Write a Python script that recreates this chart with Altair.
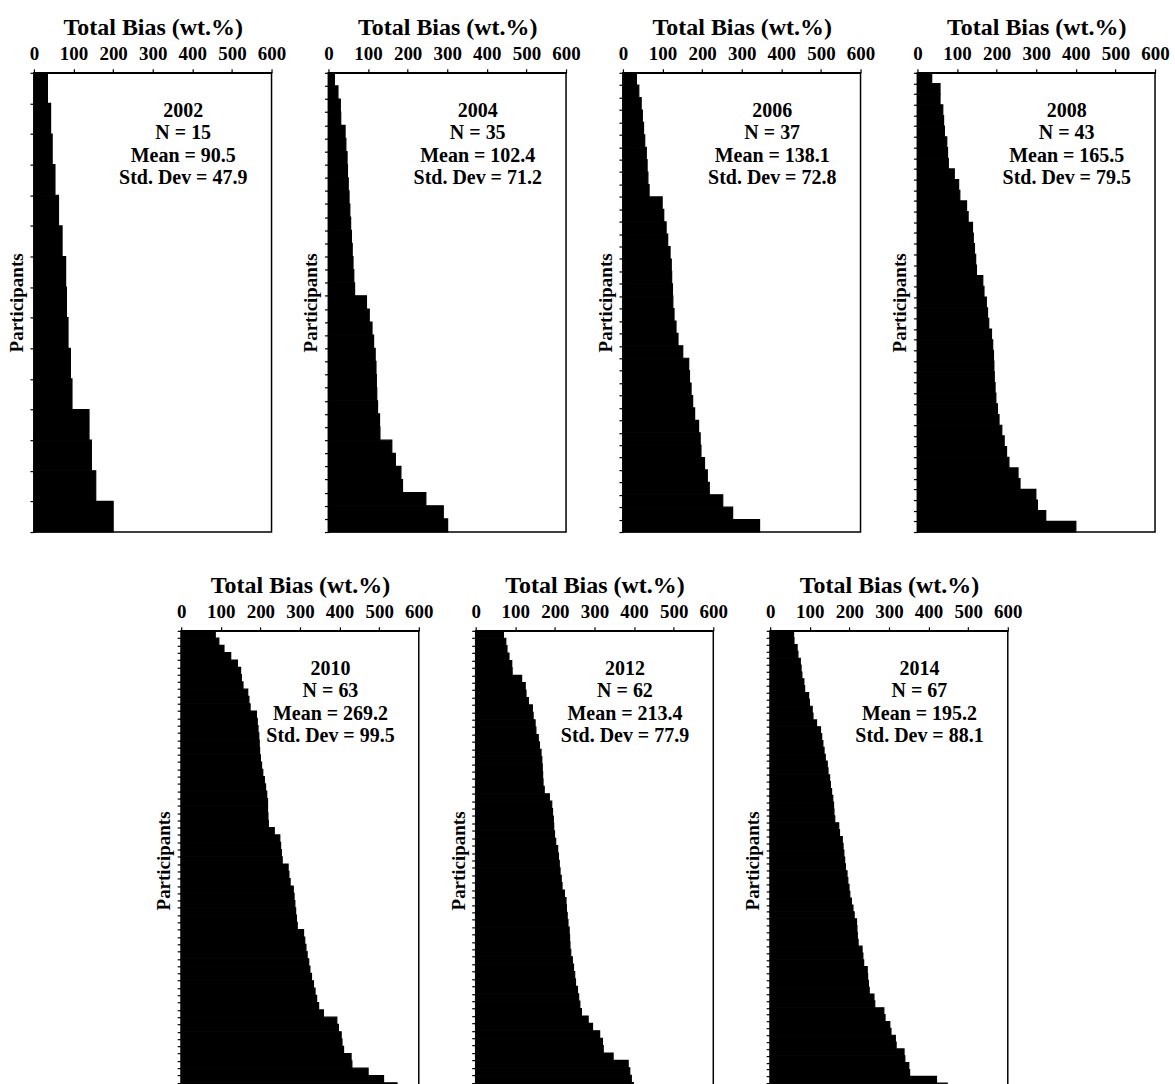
import altair as alt
import pandas as pd

years = [2002, 2004, 2006, 2008, 2010, 2012, 2014]
means = [90.5, 102.4, 138.1, 165.5, 269.2, 213.4, 195.2]
stds = [47.9, 71.2, 72.8, 79.5, 99.5, 77.9, 88.1]
x_ticks = [0, 100, 200, 300, 400, 500, 600]

bias_2002 = [34, 42, 46, 53, 62, 71, 80, 82, 86, 92, 96, 139, 145, 156, 200]
bias_2004 = [15, 24, 30, 31, 42, 44, 47, 48, 50, 52, 54, 56, 58, 60, 62, 64, 66,
             96, 103, 110, 114, 118, 120, 121, 122, 124, 129, 130, 160, 169, 183,
             187, 246, 290, 301]
bias_2006 = [34, 40, 46, 49, 52, 55, 59, 61, 63, 66, 99, 103, 109, 113, 119, 122,
             123, 125, 126, 129, 134, 139, 151, 166, 168, 172, 176, 181, 191, 195,
             197, 206, 213, 218, 252, 277, 345]
bias_2008 = [36, 57, 57, 64, 66, 68, 74, 76, 78, 93, 104, 107, 124, 128, 139, 141,
             144, 147, 149, 165, 168, 174, 177, 180, 187, 190, 192, 193, 194, 196,
             198, 202, 206, 213, 219, 225, 231, 254, 259, 299, 303, 324, 400]
bias_2010 = [86, 95, 108, 125, 142, 150, 152, 156, 168, 171, 174, 190, 192, 194,
             196, 197, 198, 200, 203, 206, 210, 213, 216, 218, 218, 219, 220, 235,
             249, 251, 253, 255, 270, 272, 275, 283, 285, 287, 289, 291, 293, 309,
             312, 315, 318, 322, 325, 329, 334, 338, 342, 347, 359, 393, 397, 404,
             406, 410, 429, 431, 472, 511, 545]
bias_2012 = [70, 76, 79, 84, 91, 92, 116, 125, 127, 133, 143, 145, 150, 152, 158,
             161, 165, 167, 168, 169, 170, 173, 186, 192, 194, 196, 197, 199, 202,
             207, 209, 211, 213, 216, 218, 224, 228, 229, 231, 233, 236, 237, 238,
             240, 244, 247, 250, 252, 257, 260, 263, 267, 284, 295, 313, 320, 322,
             347, 385, 389, 393, 398]
bias_2014 = [59, 60, 68, 70, 76, 78, 80, 85, 87, 97, 99, 106, 108, 117, 127, 130,
             133, 136, 139, 144, 146, 150, 152, 155, 158, 160, 161, 163, 173, 175,
             182, 184, 186, 188, 190, 194, 196, 199, 201, 205, 209, 212, 218, 219,
             220, 222, 232, 234, 236, 245, 246, 248, 250, 262, 264, 287, 290, 302,
             305, 316, 318, 338, 340, 350, 352, 420, 447]

series = [bias_2002, bias_2004, bias_2006, bias_2008, bias_2010, bias_2012, bias_2014]

FONT = "Liberation Serif"
W, H = 238, 460
TEXT_X = 377


def x_axis():
    return alt.Axis(orient="top", values=x_ticks, title="Total Bias (wt.%)",
                    labelFlush=False, labelOverlap=False, grid=False,
                    tickSize=4, labelPadding=5, titlePadding=5)


def panel(year, vals, mean, sd):
    n = len(vals)
    df = pd.DataFrame({
        "rank": list(range(n)),
        "rank_end": list(range(1, n + 1)),
        "bias": vals,
    })
    xscale = alt.Scale(domain=[0, 600], nice=False, zero=True)
    yscale = alt.Scale(domain=[0, n], reverse=True, nice=False, zero=False)
    bars = alt.Chart(df).mark_rect(color="black", stroke="black", strokeWidth=1.2).encode(
        x=alt.X("bias:Q", scale=xscale, axis=x_axis()),
        x2=alt.datum(0),
        y=alt.Y("rank:Q", scale=yscale,
                axis=alt.Axis(values=list(range(n + 1)), labels=False, grid=False,
                              title="Participants", tickSize=4, titlePadding=3,
                              titleFontSize=19)),
        y2="rank_end:Q",
    )
    label = f"{year}\nN = {n}\nMean = {mean}\nStd. Dev = {sd}"
    txt = alt.Chart(pd.DataFrame({"label": [label]})).mark_text(
        font=FONT, fontWeight="bold", fontSize=20, color="black", align="center",
        baseline="middle", lineBreak="\n", lineHeight=22.5,
    ).encode(
        x=alt.XDatum(TEXT_X, axis=x_axis(), scale=xscale),
        y=alt.value(38),
        text="label:N",
    )
    return alt.layer(bars, txt).properties(width=W, height=H)


charts = [panel(y, v, m, s) for y, v, m, s in zip(years, series, means, stds)]

top = alt.hconcat(*charts[:4], spacing=57, bounds="flush")
bottom = alt.hconcat(*charts[4:], spacing=57, bounds="flush")

chart = alt.vconcat(top, bottom, spacing=39, center=True).properties(
    padding={"left": 6, "top": 14, "right": 5, "bottom": 0},
    background="white",
).configure_view(
    stroke="black", strokeWidth=1.5,
).configure_axis(
    domainColor="black", domainWidth=1.5, tickColor="black", tickWidth=1.2,
    labelOverlap=False,
    labelFont=FONT, labelFontWeight="bold", labelFontSize=19, labelColor="black",
    titleFont=FONT, titleFontWeight="bold", titleFontSize=24, titleColor="black",
)

chart.save("out.html", embed_options={"renderer": "svg", "actions": False})
